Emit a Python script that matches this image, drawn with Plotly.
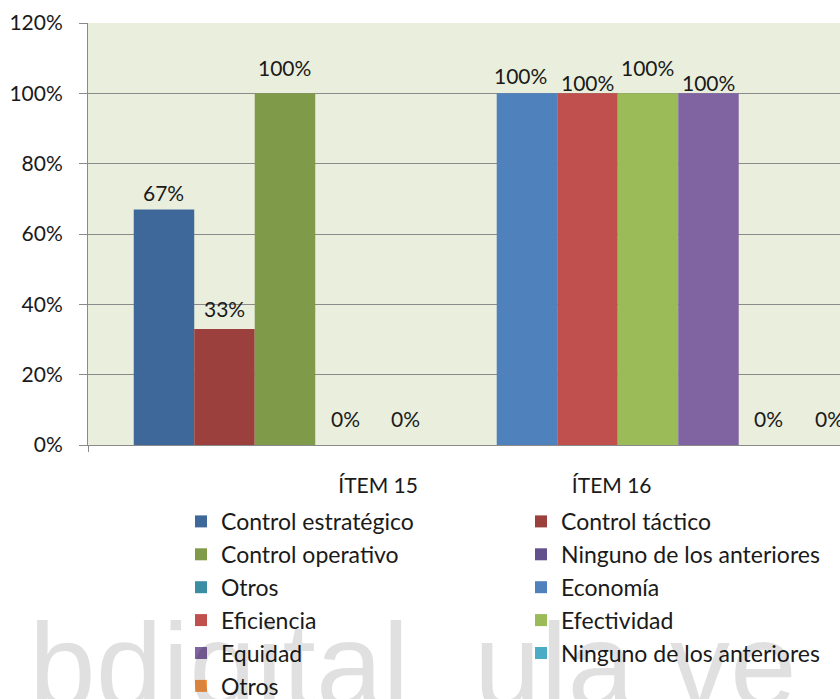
import plotly.graph_objects as go

# Survey results: answers to items 15 and 16
items = ["ÍTEM 15", "ÍTEM 16"]
series_names = [
    "Control estratégico", "Control táctico", "Control operativo",
    "Ninguno de los anteriores", "Otros",
    "Economía", "Eficiencia", "Efectividad", "Equidad",
    "Ninguno de los anteriores", "Otros",
]
series_item = [0, 0, 0, 0, 0, 1, 1, 1, 1, 1, 1]
series_values = [0.67, 0.33, 1.00, 0.00, 0.00, 1.00, 1.00, 1.00, 1.00, 0.00, 0.00]
y_ticks = [0, 0.2, 0.4, 0.6, 0.8, 1.0, 1.2]

# Styling
colors = [
    "#3E6899", "#9C403E", "#7F9A48", "#64508C", "#3B8DA4",
    "#4F81BD", "#C0504D", "#9BBB59", "#8064A2", "#4BACC6", "#F79646",
]
label_lift = [17, 20, 26, 27, 27, 18, 11, 26, 11, 27, 27]  # px above bar top
label_nudge = [0, 0, 0, 0, 0, -6, 0, 0, 0, 0, 0]           # px sideways
group_start = [0, 6]           # first bar slot of each item
item_label_pos = [3.54, 7.40]  # where the item names sit on the x axis
x_range = [-1.256, 11.174]
FONT = "Lato"
TXT = "#1a1a1a"
GRID = "#8a8a8a"

W, H = 840, 699
M_L, M_R, M_T, M_B = 88, 0, 22.6, 254

# bar slot for every series: consecutive slots within its item group
slots = []
counter = {}
for it in series_item:
    k = counter.get(it, 0)
    slots.append(group_start[it] + k)
    counter[it] = k + 1

fig = go.Figure()
for name, x, v, c in zip(series_names, slots, series_values, colors):
    fig.add_trace(go.Bar(
        x=[x], y=[v], name=name, width=1.0,
        marker=dict(color=c, line=dict(width=0)),
        hoverinfo="skip",
    ))

annotations = []
for x, v, lift, nudge in zip(slots, series_values, label_lift, label_nudge):
    annotations.append(dict(
        x=x, y=v, xref="x", yref="y", text=f"{round(v * 100)}%",
        showarrow=False, yanchor="middle", yshift=lift, xshift=nudge,
        font=dict(family=FONT, size=21, color=TXT),
    ))

plot_w = W - M_L - M_R
plot_h = H - M_T - M_B
def px_to_paper_x(px):
    return (px - M_L) / plot_w
def px_to_paper_y(py):
    return (H - M_B - py) / plot_h

# faint site watermark across the bottom
for word, left in [("bdigital", 27), ("ula", 472), ("ve", 668)]:
    annotations.append(dict(
        x=px_to_paper_x(left), y=px_to_paper_y(734), xref="paper", yref="paper",
        xanchor="left", yanchor="bottom", text=word, showarrow=False,
        font=dict(family="Liberation Sans", size=120, color="rgba(0,0,0,0.12)"),
    ))

fig.update_layout(
    width=W, height=H,
    margin=dict(l=M_L, r=M_R, t=M_T, b=M_B, pad=0, autoexpand=False),
    paper_bgcolor="white",
    plot_bgcolor="#EAEFDD",
    barmode="overlay",
    font=dict(family=FONT, size=21, color=TXT),
    showlegend=True,
    legend=dict(
        orientation="h",
        entrywidth=295, entrywidthmode="pixels",
        x=px_to_paper_x(181), xanchor="left",
        y=px_to_paper_y(500), yanchor="top",
        font=dict(family=FONT, size=23, color=TXT),
        bgcolor="rgba(0,0,0,0)",
        traceorder="normal", maxheight=1,
        itemclick=False, itemdoubleclick=False,
    ),
    annotations=annotations,
    xaxis=dict(
        range=x_range, showgrid=False, zeroline=False,
        tickmode="array", tickvals=item_label_pos, ticktext=items,
        ticks="", ticklabelstandoff=22,
        showline=True, linecolor=GRID, linewidth=1,
        minor=dict(tickmode="array", tickvals=[x_range[0]], ticks="outside",
                   ticklen=6, tickcolor=GRID, showgrid=False),
        tickfont=dict(family=FONT, size=21, color=TXT),
        fixedrange=True,
    ),
    yaxis=dict(
        range=[0, 1.2], tickmode="array", tickvals=y_ticks,
        tickformat=".0%", showgrid=True, gridcolor=GRID, gridwidth=1,
        zeroline=False, showline=True, linecolor=GRID, linewidth=1,
        ticks="outside", ticklen=8, tickcolor=GRID, ticklabelstandoff=12,
        tickfont=dict(family=FONT, size=21, color=TXT),
        fixedrange=True,
    ),
)

fig.write_html("out.html", config={"displayModeBar": False})
